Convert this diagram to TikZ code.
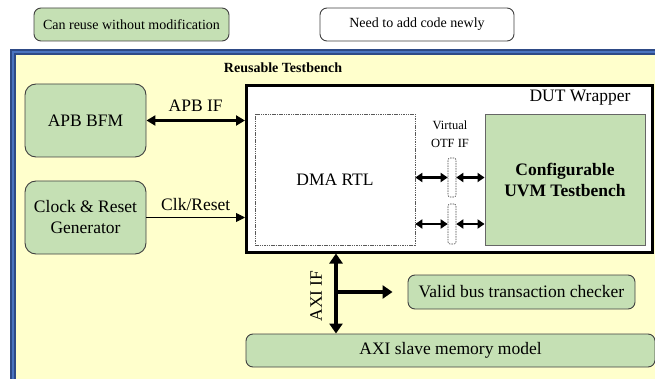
\documentclass[tikz,border=0pt]{standalone}
\usepackage{fontspec}
\setmainfont{Liberation Serif}
\usetikzlibrary{arrows.meta}
\definecolor{tbyellow}{HTML}{FFFFCC}
\definecolor{reusegreen}{HTML}{C5E0B4}
\definecolor{bluedark}{HTML}{2E4A86}
\definecolor{bluelight}{HTML}{4A74C0}
\definecolor{boxedge}{HTML}{404040}
\newcommand{\bigf}{\fontsize{17.5}{21}\selectfont}
\newcommand{\midf}{\fontsize{14}{17}\selectfont}
\newcommand{\smallf}{\fontsize{12.5}{17.5}\selectfont}
\tikzset{
  greenbox/.style={draw=boxedge, line width=0.9pt, fill=reusegreen, rounded corners=#1, inner sep=0pt, align=center},
  greenbox/.default=10pt,
  whitebox/.style={draw=boxedge, line width=0.9pt, fill=white, rounded corners=7pt, inner sep=0pt, align=center},
  otfbox/.style={draw=black!70, line width=0.6pt, dashed, dash pattern=on 1.5pt off 1pt, fill=white, rounded corners=2pt, inner sep=0pt, minimum width=8pt},
  thickarrow/.style={line width=3pt, {Triangle[length=9pt,width=10pt]}-{Triangle[length=9pt,width=10pt]}},
  otfarrow/.style={line width=2.6pt, {Triangle[length=7pt,width=9pt]}-{Triangle[length=7pt,width=9pt]}},
  axiarrow/.style={line width=4pt, {Triangle[length=10pt,width=13pt]}-{Triangle[length=10pt,width=13pt]}},
  lbl/.style={inner sep=0pt, font=\bigf}
}
\begin{document}
\begin{tikzpicture}[x=1pt,y=-1pt]
\useasboundingbox (0,0) rectangle (655,379);
\begin{scope}
\clip (0,0) rectangle (655,379);
% outer testbench frame
\draw[bluedark, line width=5.5pt, fill=tbyellow] (13,52) rectangle (680,400);
\draw[bluelight, line width=2.2pt] (13,52) rectangle (680,400);
\end{scope}

% legend
\node[greenbox=7pt, minimum width=195pt, minimum height=33pt, font=\midf] (legreuse) at (131.5,24.5) {Can reuse without modification};
\node[whitebox, minimum width=194pt, minimum height=33pt, font=\midf] (legnew) at (417,24.5) {Need to add code newly};

\node[inner sep=0pt, font=\midf\bfseries] (title) at (283,68) {Reusable Testbench};

% left blocks
\node[greenbox=11pt, minimum width=121pt, minimum height=73pt, font=\bigf] (apb) at (85.5,120.5) {APB BFM};
\node[greenbox=11pt, minimum width=121pt, minimum height=73pt, font=\bigf] (clk) at (85.5,217.5) {Clock \& Reset\\Generator};

% DUT wrapper
\node[draw=black, line width=3pt, fill=white, minimum width=406pt, minimum height=166pt, inner sep=0pt] (dut) at (449.5,169) {};
\node[lbl] (dutlbl) at (580,98) {DUT Wrapper};

\node[draw=black!65, line width=0.6pt, dash pattern=on 1.5pt off 0.8pt, fill=white, minimum width=160pt, minimum height=131pt, inner sep=0pt, font=\bigf] (dma) at (335,179.5) {DMA RTL};
\node[draw=black!60, line width=0.9pt, fill=reusegreen, minimum width=160pt, minimum height=131pt, inner sep=0pt, align=center, font=\bigf\bfseries] (uvm) at (565,179.5) {Configurable\\UVM Testbench};

\node[otfbox, minimum height=39pt] (otfa) at (452,177.5) {};
\node[otfbox, minimum height=40pt] (otfb) at (452,224) {};
\node[inner sep=0pt, align=center, font=\smallf] (otflbl) at (450,134) {Virtual\\OTF IF};

\draw[otfarrow] (dma.east |- otfa.west) -- (otfa.west);
\draw[otfarrow] (otfa.east) -- (uvm.west |- otfa.east);
\draw[otfarrow] (dma.east |- otfb.west) -- (otfb.west);
\draw[otfarrow] (otfb.east) -- (uvm.west |- otfb.east);

% APB and clock connections
\draw[thickarrow] (apb.east) -- (dut.west |- apb.east) node[midway, lbl, above=7pt] (apbif) {APB IF};
\draw[line width=0.9pt, -{Triangle[length=9pt,width=9pt]}] (clk.east) -- (dut.west |- clk.east) node[midway, lbl, above=6pt] (clkif) {Clk/Reset};

% bottom blocks
\node[greenbox=7pt, minimum width=227pt, minimum height=34pt, font=\bigf] (chk) at (521.5,292) {Valid bus transaction checker};
\node[greenbox=7pt, minimum width=409pt, minimum height=33pt, font=\bigf] (axi) at (450.5,350.5) {AXI slave memory model};

\coordinate (axitop) at (336,253);
\coordinate (axibr) at (336,292);
\draw[axiarrow] (axitop |- dut.south) -- (axitop |- axi.north);
\draw[line width=4pt, -{Triangle[length=10pt,width=13pt]}, shorten >=15pt] (axibr) -- (chk.west);
\node[lbl, rotate=90] (axilbl) at (316,296) {AXI IF};
\end{tikzpicture}
\end{document}
